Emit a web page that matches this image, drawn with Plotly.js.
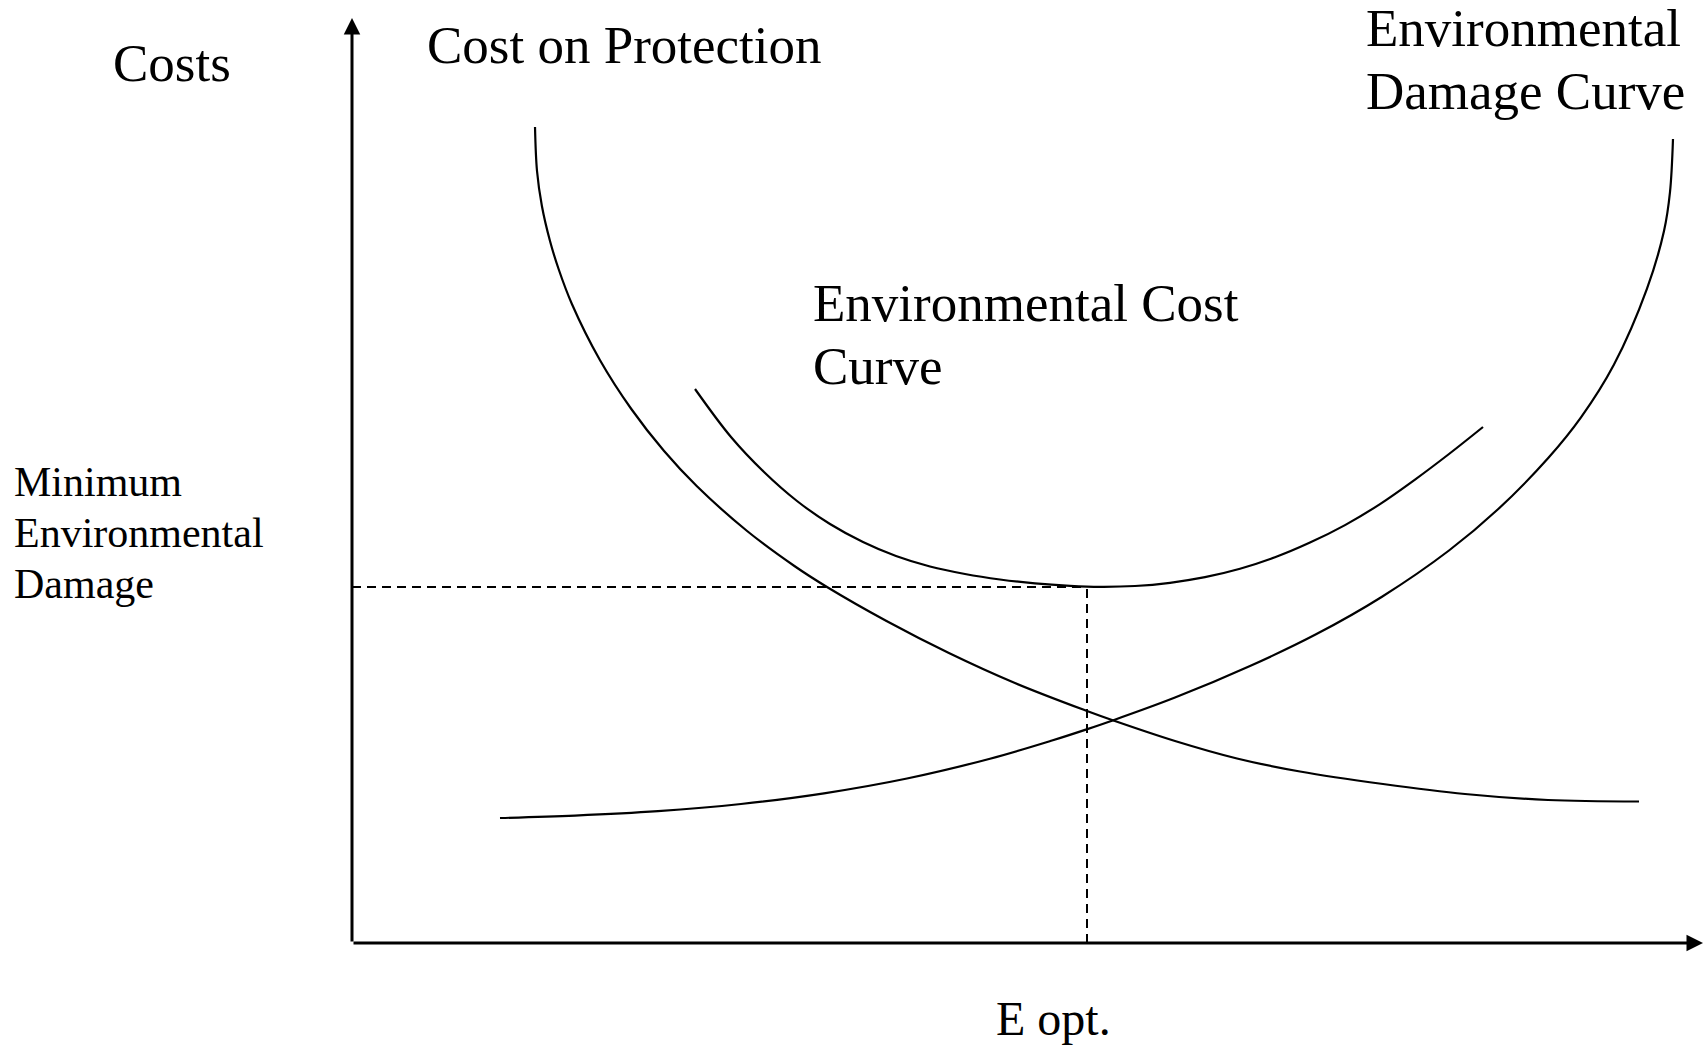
<!DOCTYPE html>
<html>
<head>
<meta charset="utf-8">
<script src="https://cdn.plot.ly/plotly-3.0.1.min.js"></script>
<style>
  html, body { margin: 0; padding: 0; background: #ffffff; }
  #chart { width: 1703px; height: 1046px; }
</style>
</head>
<body>
<div id="chart"></div>
<script>
// ---- Data (abstract units: x = emission level 0..100, y = costs 0..100) ----
const protectionX = [13.546, 13.694, 14.056, 14.656, 15.292, 16.277, 18.349, 20.674, 23.101, 25.514, 29.245, 32.746, 35.159, 39.563, 44.182, 49.068, 54.404, 56.255, 60.918, 65.507, 70.170, 76.314, 82.383, 88.527, 95.263];
const protectionY = [88.216, 83.459, 79.676, 75.892, 72.865, 69.081, 63.027, 57.730, 53.189, 49.405, 44.541, 40.757, 38.486, 34.811, 31.351, 28.108, 25.081, 24.108, 21.838, 19.946, 18.541, 17.189, 16.108, 15.459, 15.297];

const damageX = [10.955, 16.506, 22.650, 28.793, 34.937, 41.081, 47.224, 51.813, 54.404, 56.255, 60.918, 66.469, 71.355, 76.240, 81.199, 84.826, 88.527, 90.970, 93.412, 95.855, 97.113, 97.557, 97.779];
const damageY = [13.514, 13.773, 14.249, 15.027, 16.184, 17.784, 19.924, 21.892, 23.114, 24.032, 26.530, 29.946, 33.373, 37.438, 42.432, 46.886, 52.400, 56.822, 62.530, 70.735, 76.973, 81.189, 86.919];

const envCostX = [25.389, 28.053, 30.496, 32.939, 35.381, 37.824, 40.266, 42.783, 45.374, 47.964, 50.555, 53.146, 55.366, 57.957, 60.548, 63.138, 65.729, 68.320, 70.910, 73.501, 76.092, 78.683, 81.199, 83.716];
const envCostY = [59.892, 54.703, 50.919, 47.784, 45.297, 43.351, 41.838, 40.703, 39.892, 39.297, 38.876, 38.616, 38.508, 38.595, 38.941, 39.546, 40.454, 41.697, 43.286, 45.178, 47.449, 50.097, 52.865, 55.784];

const eOpt = 54.404;         // optimum emission level
const minDamage = 38.486;    // minimum environmental damage level
const axisMax = 100;

const labelCosts = "Costs";
const labelProtection = "Cost on Protection";
const labelDamageCurve = ["Environmental", "Damage Curve"];
const labelEnvCost = ["Environmental Cost", "Curve"];
const labelMinDamage = ["Minimum", "Environmental", "Damage"];
const labelEOpt = "E opt.";

// ---- Figure ----
const W = 1703, H = 1046;
const M = { l: 352, r: 0, t: 18, b: 103 };
const plotW = W - M.l - M.r, plotH = H - M.t - M.b;
const FONT = '"Liberation Serif", "Times New Roman", Times, serif';

function px2paperX(px) { return (px - M.l) / plotW; }
function px2paperY(py) { return (H - M.b - py) / plotH; }

const curveLine = { color: '#000000', width: 2.2, shape: 'spline', smoothing: 1 };
const dashLine = { color: '#000000', width: 2, dash: '9px,6px' };

const traces = [
  { x: protectionX, y: protectionY, mode: 'lines', line: curveLine, name: labelProtection },
  { x: damageX, y: damageY, mode: 'lines', line: curveLine, name: labelDamageCurve.join(' ') },
  { x: envCostX, y: envCostY, mode: 'lines', line: curveLine, name: labelEnvCost.join(' ') },
  { x: [0, eOpt], y: [minDamage, minDamage], mode: 'lines', line: dashLine, name: 'min' },
  { x: [eOpt, eOpt], y: [0, minDamage], mode: 'lines', line: dashLine, name: 'eopt' }
];

function textAnn(text, pxX, pxCenterY, size, anchor) {
  return {
    text: text, xref: 'paper', yref: 'paper',
    x: px2paperX(pxX), y: px2paperY(pxCenterY),
    xanchor: anchor, yanchor: 'middle', showarrow: false,
    font: { family: FONT, size: size, color: '#000000' }, borderpad: 0
  };
}

function axisArrow(x0, y0, x1, y1) {
  return {
    text: '', xref: 'x', yref: 'y', axref: 'x', ayref: 'y',
    x: x1, y: y1, ax: x0, ay: y0,
    showarrow: true, arrowhead: 2, arrowsize: 1.1, arrowwidth: 3,
    arrowcolor: '#000000', standoff: 0, startstandoff: 0,
    font: { size: 1 }
  };
}

const big = 53, small = 42, mid = 48;
const annotations = [
  axisArrow(0, 0, axisMax, 0),
  axisArrow(0, 0, 0, axisMax),
  textAnn(labelCosts, 172, 80.5 - 0.3375 * big, big, 'center'),
  textAnn(labelProtection, 426, 63 - 0.3375 * big, big, 'left'),
  textAnn(labelDamageCurve[0], 1365, 45.5 - 0.3375 * big, big, 'left'),
  textAnn(labelDamageCurve[1], 1365, 108.5 - 0.3375 * big, big, 'left'),
  textAnn(labelEnvCost[0], 812, 320.6 - 0.3375 * big, big, 'left'),
  textAnn(labelEnvCost[1], 812, 383.6 - 0.3375 * big, big, 'left'),
  textAnn(labelMinDamage[0], 13, 496 - 0.3375 * small, small, 'left'),
  textAnn(labelMinDamage[1], 13, 547.4 - 0.3375 * small, small, 'left'),
  textAnn(labelMinDamage[2], 13, 598.4 - 0.3375 * small, small, 'left'),
  textAnn(labelEOpt, 1053, 1035 - 0.3375 * mid, mid, 'center')
];

const hiddenAxis = {
  range: [0, axisMax], showline: false, showgrid: false, zeroline: false,
  showticklabels: false, ticks: '', fixedrange: true
};

const layout = {
  width: W, height: H,
  margin: M,
  paper_bgcolor: '#ffffff', plot_bgcolor: '#ffffff',
  showlegend: false,
  hovermode: false,
  xaxis: Object.assign({}, hiddenAxis),
  yaxis: Object.assign({}, hiddenAxis),
  annotations: annotations,
  font: { family: FONT, color: '#000000' }
};

Plotly.newPlot('chart', traces, layout, { staticPlot: true, displayModeBar: false });
</script>
</body>
</html>
